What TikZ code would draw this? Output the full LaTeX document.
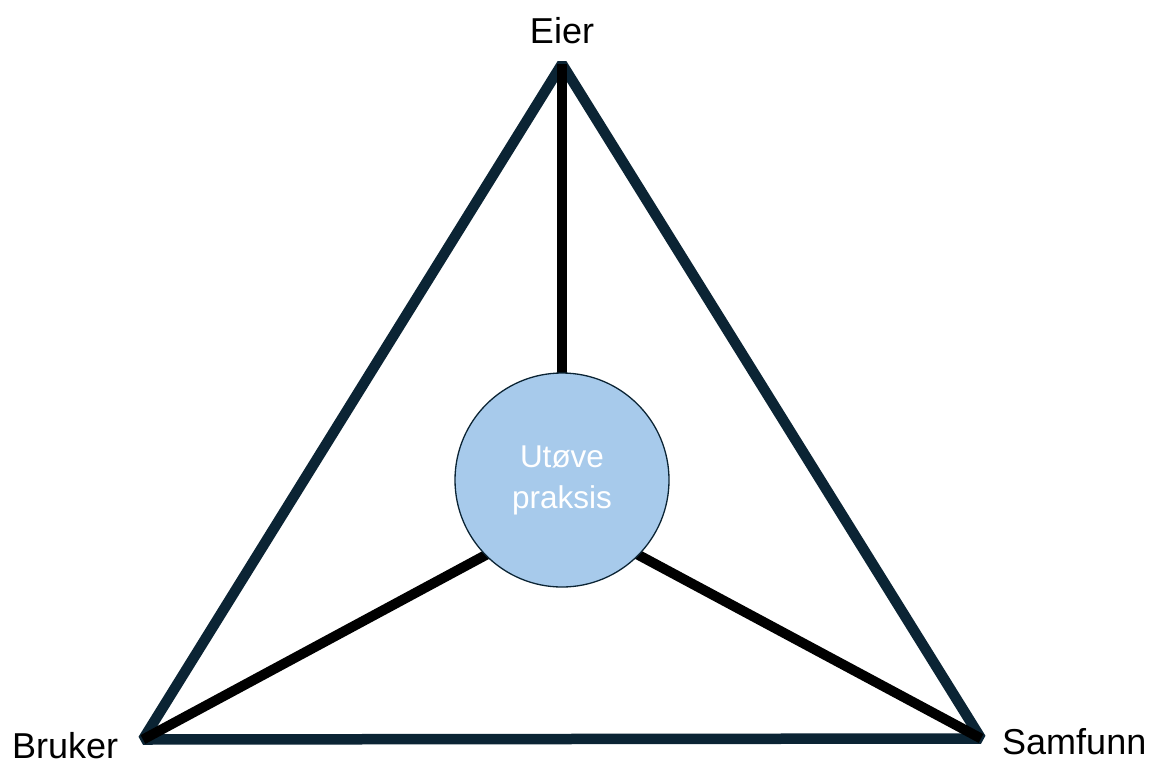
\documentclass[tikz,border=0pt]{standalone}
\usepackage{fontspec}
\setmainfont{Liberation Sans}
\usetikzlibrary{calc}
\definecolor{edgenavy}{HTML}{0B2434}
\definecolor{hubfill}{HTML}{A7CAEB}
\begin{document}
\begin{tikzpicture}[x=1pt,y=-1pt,
  side/.style={draw=edgenavy,line width=10.5pt,line join=bevel},
  spoke/.style={draw=black,line width=10pt},
  hub/.style={circle,draw=edgenavy,line width=1.3pt,fill=hubfill,minimum size=214pt,inner sep=0pt,
    text=white,align=center,font=\fontsize{31.5}{41}\selectfont},
  role/.style={font=\fontsize{36}{40}\selectfont,text=black,inner sep=0pt}]
  \useasboundingbox (0,0) rectangle (1164,763);
  % corners of the triangle
  \coordinate (top) at (562,64);
  \coordinate (left) at (143,739.5);
  \coordinate (right) at (981,738.5);
  \coordinate (mid) at (562,480);
  % the spokes meet at the centroid of the triangle
  \coordinate (centroid) at ($1/3*(top)+1/3*(left)+1/3*(right)$);
  % outer triangle
  \draw[side] (top) -- (left) -- (right) -- cycle;
  % spokes from each corner towards the centre
  \draw[spoke] (top) -- (top |- centroid);
  \draw[spoke] (left) -- (centroid);
  \draw[spoke] (right) -- (centroid);
  % central circle
  \node[hub] (hubnode) at (mid) {Utøve\\praksis};
  % corner labels
  \node[role,anchor=base] (eierlbl) at (562,43) {Eier};
  \node[role,anchor=base west] (brukerlbl) at (12,758) {Bruker};
  \node[role,anchor=base west] (samfunnlbl) at (1002,754) {Samfunn};
\end{tikzpicture}
\end{document}
